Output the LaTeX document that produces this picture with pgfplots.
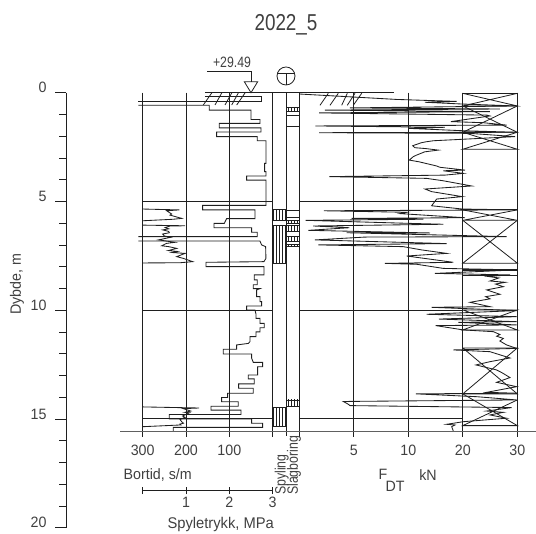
\documentclass[border=0pt]{standalone}
\usepackage{fontspec}
\setmainfont[FakeStretch=0.95]{Liberation Sans}
\newfontfamily\narrowf[FakeStretch=0.82]{Liberation Sans}
\usepackage{pgfplots}
\pgfplotsset{compat=1.18}
\usetikzlibrary{patterns}
\definecolor{ink}{gray}{0.12}
\definecolor{txt}{gray}{0.25}
\tikzset{
  curve/.style={ink,line width=0.85pt,line join=miter},
  rule/.style={ink,line width=0.8pt}
}
\pgfplotsset{
  /pgf/number format/assume math mode=true,
  panel/.style={scale only axis,clip=false,anchor=south west,y dir=reverse,
    height=339pt,ymin=0,ymax=15.59,axis y line=none,axis x line*=bottom,
    xmajorgrids,major grid style={ink,line width=0.8pt},
    tick align=outside,major tick length=5pt,
    tick style={ink,line width=0.8pt},
    axis line style={draw=none},
    xticklabel style={font=\fontsize{15}{15}\selectfont,text=txt,yshift=-5pt}}
}
\begin{document}
\begin{tikzpicture}[x=1pt,y=1pt]
\path[use as bounding box] (0,0) rectangle (536,534);

% depth axis
\begin{axis}[scale only axis,anchor=south west,at={(66.3pt,6.3pt)},width=100pt,height=435pt,
  y dir=reverse,ymin=0,ymax=20,xmin=0,xmax=1,axis x line=none,axis y line*=left,
  ytick={0,5,10,15,20},minor y tick num=4,tick align=outside,
  major tick length=11.3pt,minor tick length=7.3pt,
  tick style={ink,line width=0.8pt},axis line style={ink,line width=0.9pt,-},
  yticklabel style={font=\fontsize{15}{15}\selectfont,text=txt,yshift=5pt,xshift=-5pt,anchor=east}]
\addplot[draw=none] coordinates {(0,0)(0,20)};
\end{axis}

% Bortid panel
\begin{axis}[panel,at={(142.7pt,102.3pt)},width=130pt,xmin=0,xmax=300,x dir=reverse,
  xtick={300,200,100,0},xticklabels={300,200,100,}]
\addplot[rule] coordinates {(300,5)(0,5)};
\addplot[rule] coordinates {(300,10)(0,10)};
\addplot[rule] coordinates {(300,15)(0,15)};
\addplot[curve] coordinates {(156.3,.18)(25.6,.18)(25.6,.41)(310.1,.41)};
\addplot[curve] coordinates {(310.1,.58)(146.3,.58)(146.3,.80)(50.2,.80)(50.2,1.23)(29.4,1.23)(29.4,1.41)(123.2,1.41)(123.2,1.62)(27.1,1.62)(27.1,1.81)(129.4,1.81)(129.4,2.02)(35.6,2.02)(35.6,2.21)(15.6,2.21)(15.6,3.25)(18.7,3.25)(18.7,3.63)(15.6,3.63)(15.6,3.83)(60.2,3.83)(60.2,4.02)(15.6,4.02)(15.6,5.18)(161.7,5.18)(161.7,5.39)(41,5.39)(41,5.79)(106.3,5.79)(111.7,6.01)(135.5,6.01)(135.5,6.21)(48.6,6.21)(48.6,6.42)(35.6,6.42)(35.6,6.62)(310.1,6.62)};
\addplot[curve] coordinates {(310.1,6.82)(29.4,6.82)(25.6,7.0)(16.3,7.08)(15.6,7.62)(20.2,7.77)(154,7.80)(154,8.0)(20.2,8.0)(20.2,8.38)(42.5,8.38)(42.5,8.61)(35.6,8.61)(35.6,8.83)(44.8,8.83)(44.8,9.01)(29.4,9.01)(37.1,9.07)(37.1,9.38)(29.4,9.38)(29.4,9.61)(25.6,9.61)(25.6,9.81)(60.2,9.81)(60.2,9.99)(41,9.99)(38.6,10.18)(38.6,10.38)(29.4,10.38)(29.4,10.61)(19.4,10.61)(19.4,10.81)(29.4,10.81)(29.4,11.0)(38.6,11.0)(38.6,11.22)(52.5,11.22)(52.5,11.45)(56.3,11.53)(83.2,11.6)(83.2,11.8)(114,11.8)(114,12.02)(48.6,12.02)(48.6,12.21)(44.8,12.4)(23.3,12.4)(23.3,12.6)(34.8,12.6)(34.8,12.98)(56.3,12.98)(56.3,13.16)(42.5,13.16)(42.5,13.39)(78.6,13.39)(78.6,13.59)(44.8,13.59)(44.8,13.82)(104,13.82)(104,14.02)(117.9,14.02)(117.9,14.21)(79.4,14.21)(79.4,14.42)(142.5,14.42)(142.5,14.6)(73.3,14.6)(73.3,14.8)(238.6,14.8)(238.6,15.0)(48.6,15.0)(48.6,15.2)(23.3,15.2)(23.3,15.39)(229.4,15.39)(229.4,15.59)};
\end{axis}

% Spyletrykk curve on the same panel
\begin{axis}[scale only axis,clip=false,anchor=south west,at={(142.7pt,102.3pt)},width=130pt,height=339pt,
  hide axis,y dir=reverse,ymin=0,ymax=15.59,xmin=0,xmax=3]
\addplot[curve] coordinates {(0,5.35)(.846,5.39)(.554,5.43)(.669,5.58)(.631,5.63)(.9,5.78)(.708,5.82)(0,5.89)};
\addplot[curve] coordinates {(0,6.09)(.977,6.12)(.631,6.13)(.52,6.2)(.6,6.26)(.462,6.31)(.6,6.38)(.615,6.44)(.46,6.5)(.5,6.59)(.646,6.65)(.362,6.77)(.746,6.88)(.55,6.93)(.438,7.04)(.6,7.08)(.785,7.16)(.592,7.26)(.8,7.3)(.68,7.35)(.977,7.39)(.785,7.54)(.938,7.62)(1.154,7.77)(.862,7.82)(0,7.83)};
\addplot[curve] coordinates {(0,14.45)(1.3,14.5)(.938,14.53)(1.108,14.64)(.977,14.7)(1.08,14.72)(.92,14.87)(.977,14.93)(.86,15.03)(.9,15.13)(.94,15.2)(.86,15.24)(.88,15.28)(0,15.36)};
\end{axis}

% Spyling and Slagboring columns
\begin{axis}[scale only axis,clip=false,anchor=south west,at={(272.7pt,102.3pt)},width=26.6pt,height=339pt,
  hide axis,y dir=reverse,ymin=0,ymax=15.59,xmin=0,xmax=2]
\addplot[rule] coordinates {(1,0)(1,15.8)};
\addplot[curve,pattern=vertical lines,pattern color=ink] coordinates {(0,5.39)(.98,5.39)(.98,5.89)(0,5.89)} --cycle;
\addplot[curve,pattern=vertical lines,pattern color=ink] coordinates {(0,6.09)(.98,6.09)(.98,7.83)(0,7.83)} --cycle;
\addplot[curve,pattern=vertical lines,pattern color=ink] coordinates {(0,14.48)(.98,14.48)(.98,15.36)(0,15.36)} --cycle;
\addplot[curve,pattern=vertical lines,pattern color=ink] coordinates {(1,.67)(2,.67)(2,.84)(1,.84)} --cycle;
\addplot[curve] coordinates {(1,1.03)(2,1.03)};
\addplot[ink,line width=1pt] coordinates {(1,1.56)(2,1.56)};
\addplot[ink,line width=1pt] coordinates {(1,5.44)(2,5.44)(2,5.75)(1,5.75)} --cycle;
\addplot[curve,pattern=vertical lines,pattern color=ink] coordinates {(1,5.86)(2,5.86)(2,6.01)(1,6.01)} --cycle;
\addplot[curve,pattern=vertical lines,pattern color=ink] coordinates {(1,6.09)(2,6.09)(2,6.36)(1,6.36)} --cycle;
\addplot[curve,pattern=vertical lines,pattern color=ink] coordinates {(1,6.62)(2,6.62)(2,6.85)(1,6.85)} --cycle;
\addplot[curve,pattern=vertical lines,pattern color=ink] coordinates {(1,6.96)(2,6.96)(2,7.05)(1,7.05)} --cycle;
\addplot[curve,pattern=vertical lines,pattern color=ink] coordinates {(1,14.13)(2,14.13)(2,14.44)(1,14.44)} --cycle;
\end{axis}

% Force panel (positions are evenly spaced ticks 5, 10, 20, 30)
\begin{axis}[panel,at={(299.3pt,102.3pt)},width=218pt,xmin=0,xmax=20,
  xtick={0,5,10,15,20},xticklabels={,5,10,20,30}]
\addplot[rule] coordinates {(0,5)(15,5)};
\addplot[rule] coordinates {(0,10)(15,10)};
\addplot[rule] coordinates {(0,15)(15,15)};
\addplot[rule] coordinates {(15,.03)(20,.03)};
\addplot[rule] coordinates {(15,.03)(20,.61)(15,.61)(20,.03)};
\addplot[rule] coordinates {(15,.61)(20,1.82)(15,1.82)(20,.61)};
\addplot[rule] coordinates {(15,1.82)(20,2.6)(15,2.6)(20,1.82)};
\addplot[ink,line width=1.2pt] coordinates {(15,5.39)(20,5.39)};
\addplot[rule] coordinates {(15,5.39)(20,5.87)(15,5.87)(20,5.39)};
\addplot[rule] coordinates {(15,5.87)(20,7.84)(15,7.84)(20,5.87)};
\addplot[ink,line width=1.2pt] coordinates {(15,8.15)(20,8.15)};
\addplot[rule] coordinates {(15,8.38)(20,8.38)};
\addplot[rule] coordinates {(15,9.99)(20,10.91)(15,10.91)(20,9.99)(15,9.99)};
\addplot[rule] coordinates {(15,11.74)(20,13.85)(15,13.85)(20,11.74)(15,11.74)};
\addplot[rule] coordinates {(15,13.85)(20,15.31)(15,15.31)(20,14.13)};
\addplot[curve] coordinates {(0,.06)(8.93,.31)(14.43,.40)(11.53,.44)(14.89,.52)(19.94,.61)(4.65,.70)(18.41,.75)(2.35,.80)(17.49,.87)(1.83,.93)(17.19,1.03)(17.49,1.07)(13.91,1.33)(16.88,1.38)(19.02,1.49)(1.47,1.53)(13.36,1.59)(10,1.64)(15.05,1.75)(19.94,1.82)(1.83,1.84)(15.66,1.87)(19.79,2.02)(12.29,2.21)(11.6,2.26)(11.2,2.3)(10.4,2.44)(10.61,2.53)(11.6,2.57)(12.75,2.64)(11.5,2.72)(10.76,2.87)(10.46,2.94)(10.09,3.10)(11,3.18)(12.6,3.37)(12.9,3.43)(15.2,3.56)(13.21,3.59)(15.05,3.71)(13.36,3.79)(2.75,3.86)(11.68,3.94)(13.2,4.05)(15.81,4.29)(11.53,4.43)(12.14,4.55)(14.95,4.78)(12.6,4.89)(12.14,5.2)(14.95,5.35)(19.94,5.39)(2.26,5.43)(9.85,5.50)(9.24,5.56)(15.2,5.75)(4.8,5.78)(11.38,5.82)(.58,5.87)(10.15,6.01)(13.21,6.05)(1.28,6.13)(4.59,6.21)(.83,6.33)(11.99,6.45)(4.34,6.44)(19.02,6.62)(6.02,6.64)(1.44,6.77)(13.52,6.94)(1.74,7.0)(9.54,7.08)(11.22,7.23)(13.52,7.39)(9.85,7.51)(14.13,7.80)(7.86,7.85)(10.76,7.89)(13.21,8.08)(19.94,8.15)(12.45,8.31)(19.33,8.38)(17.3,8.45)(18.3,8.52)(17.49,8.66)(18.9,8.72)(18.0,8.8)(18.72,8.92)(17.19,9.07)(18.41,9.27)(17.1,9.38)(17.5,9.48)(15.66,9.64)(17.49,9.84)(12.14,9.87)(19.94,10.02)(11.68,10.19)(19.94,10.3)(12.81,10.41)(19.94,10.53)(14.59,10.56)(19.94,10.68)(12.51,10.71)(15.05,10.91)(17.8,10.99)(18.4,11.12)(18.1,11.2)(18.72,11.3)(18.4,11.42)(19.02,11.6)(19.94,11.76)(14.13,11.83)(17.49,11.91)(19.33,12.2)(17.49,12.37)(16.21,12.52)(18.1,12.75)(18.6,12.88)(19.33,13.1)(18.1,13.32)(19.94,13.52)(17.19,13.78)(19.94,13.82)(10.7,13.85)(16.27,13.98)(19.94,14.13)(4.04,14.2)(4.5,14.33)(4.65,14.39)(19.48,14.48)(17.19,14.64)(18.72,14.7)(17.49,14.82)(19.02,14.97)(15.05,15.13)(13.52,15.25)(14.28,15.28)(13.98,15.36)(14.13,15.56)};
\end{axis}

% Spyletrykk scale
\begin{axis}[scale only axis,anchor=south west,at={(142.7pt,43.3pt)},width=130pt,height=1pt,
  xmin=0,xmax=3,ymin=0,ymax=1,axis y line=none,axis x line*=bottom,
  xtick={0,1,2,3},xticklabels={,1,2,3},tick align=center,major tick length=7pt,
  tick style={ink,line width=0.8pt},axis line style={ink,line width=0.9pt,-},
  xticklabel style={font=\fontsize{15}{15}\selectfont,text=txt,yshift=1pt}]
\addplot[draw=none] coordinates {(0,0)(3,0)};
\end{axis}

% annotations, written in reference pixels
\begin{scope}[x=1pt,y=-1pt,shift={(0,534pt)}]
\draw[gray!75!black,line width=1.3pt] (120,431.7)--(536,431.7);
\draw[rule] (205,92.7)--(299.3,92.7);
\draw[rule] (299.3,92.7)--(394,92.7);
\draw[rule] (203.3,105)--(211.7,93) (215,105)--(221.7,93) (225,105)--(231.7,93) (231.7,105)--(238.3,93) (236.7,105)--(245,93);
\draw[rule] (320,105.3)--(328.3,93.3) (330,105.3)--(338.3,93.3) (341.7,105.3)--(347.3,93.3) (347.3,105.3)--(355,93.3) (353.3,105.3)--(361.7,93.3);
\draw[rule] (207,71.3)--(251.7,71.3)--(251.7,81.7);
\draw[rule] (244.3,81.7)--(257.7,81.7)--(251,92.7)--cycle;
\draw[rule] (286,76) circle (9);
\draw[rule] (277.5,73.3)--(294.5,73.3) (286,73.3)--(286,85);
\node[txt,font=\narrowf\fontsize{15}{15}\selectfont] at (232,62) {+29.49};
\node[txt,font=\narrowf\fontsize{23}{23}\selectfont] at (286,25) {2022\_5};
\node[txt,font=\fontsize{15}{15}\selectfont,rotate=90] at (17,284) {Dybde, m};
\node[txt,font=\fontsize{15}{15}\selectfont] at (157.7,475) {Bortid, s/m};
\node[txt,font=\fontsize{15.5}{15.5}\selectfont] at (220.7,525) {Spyletrykk, MPa};
\node[txt,font=\narrowf\fontsize{15}{15}\selectfont,rotate=90,anchor=west,inner sep=0pt] at (281.7,495) {Spyling};
\node[txt,font=\narrowf\fontsize{15}{15}\selectfont,rotate=90,anchor=west,inner sep=0pt] at (294,495) {Slagboring};
\node[txt,font=\fontsize{15}{15}\selectfont] at (383,474) {F};
\node[txt,font=\fontsize{15}{15}\selectfont] at (395,486) {DT};
\node[txt,font=\fontsize{15}{15}\selectfont] at (428,475) {kN};
\end{scope}
\end{tikzpicture}
\end{document}
